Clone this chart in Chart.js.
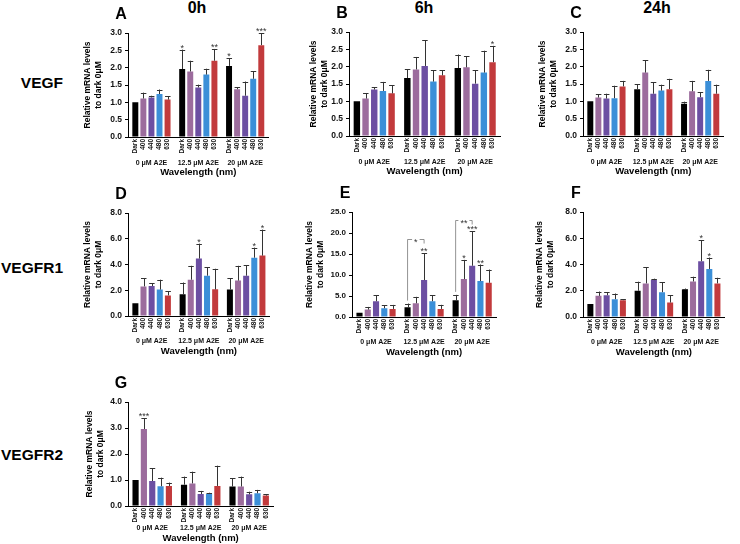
<!DOCTYPE html>
<html>
<head>
<meta charset="utf-8">
<script src="https://cdn.jsdelivr.net/npm/chart.js@4.4.0/dist/chart.umd.min.js"></script>
<style>
  body { margin: 0; width: 740px; height: 544px; background: #fff; position: relative; overflow: hidden;
         font-family: 'Liberation Sans', Arial, sans-serif; font-weight: bold; color: #000; }
  .lbl { position: absolute; white-space: nowrap; line-height: 1; }
  canvas { position: absolute; }
</style>
</head>
<body>
<div class="lbl" style="left:197px;top:8px;font-size:16px;transform:translate(-50%,-50%)">0h</div>
<div class="lbl" style="left:424px;top:8px;font-size:16px;transform:translate(-50%,-50%)">6h</div>
<div class="lbl" style="left:657px;top:8px;font-size:16px;transform:translate(-50%,-50%)">24h</div>

<div class="lbl" style="left:63px;top:83px;font-size:15.5px;transform:translate(-100%,-50%)">VEGF</div>
<div class="lbl" style="left:63px;top:268px;font-size:15.5px;transform:translate(-100%,-50%)">VEGFR1</div>
<div class="lbl" style="left:63px;top:455px;font-size:15.5px;transform:translate(-100%,-50%)">VEGFR2</div>

<script>
// Relative mRNA levels (to dark 0 µM) – VEGF / VEGFR1 / VEGFR2 after blue/red light + A2E

const doses = ['0 μM A2E', '12.5 μM A2E', '20 μM A2E'];
const wavelengths = ['Dark', '400', '440', '480', '630'];
const barColors = ['#000000', '#9c6c9d', '#6c4fa2', '#3b8fd8', '#c23a3c'];

// each row = one dose group, values in wavelength order
// ----- VEGF -----
const meanA = [[1.00, 1.11, 1.14, 1.24, 1.08], [1.96, 1.89, 1.43, 1.80, 2.20], [2.05, 1.38, 1.19, 1.68, 2.65]];
const sdA   = [[0, 0.17, 0.05, 0.13, 0.10], [0.56, 0.31, 0.08, 0.17, 0.34], [0.22, 0.05, 0.41, 0.21, 0.35]];
const starsA = [['', '', '', '', ''], ['*', '', '', '', '**'], ['*', '', '', '', '***']];

const meanB = [[1.00, 1.08, 1.34, 1.30, 1.23], [1.67, 1.92, 2.02, 1.57, 1.75], [1.96, 1.98, 1.51, 1.83, 2.13]];
const sdB   = [[0, 0.15, 0.06, 0.26, 0.24], [0.26, 0.36, 0.74, 0.33, 0.14], [0.39, 0.32, 0.39, 0.63, 0.47]];
const starsB = [['', '', '', '', ''], ['', '', '', '', ''], ['', '', '', '', '*']];

const meanC = [[1.00, 1.11, 1.08, 1.09, 1.43], [1.35, 1.83, 1.22, 1.31, 1.35], [0.93, 1.29, 1.12, 1.59, 1.22]];
const sdC   = [[0, 0.09, 0.14, 0.36, 0.16], [0.15, 0.35, 0.33, 0.17, 0.30], [0.06, 0.30, 0.14, 0.32, 0.26]];
const starsC = [['', '', '', '', ''], ['', '', '', '', ''], ['', '', '', '', '']];

// ----- VEGFR1 -----
const meanD = [[1.00, 2.30, 2.33, 2.05, 1.60], [1.68, 2.82, 4.46, 3.13, 2.07], [2.05, 2.75, 3.13, 4.53, 4.69]];
const sdD   = [[0, 0.65, 0.20, 0.77, 0.33], [0.92, 1.08, 1.16, 0.67, 1.60], [0.90, 1.15, 0.83, 0.78, 2.02]];
const starsD = [['', '', '', '', ''], ['', '', '*', '', ''], ['', '', '', '*', '*']];

const meanE = [[1.00, 1.76, 3.75, 2.08, 1.92], [2.30, 3.27, 8.79, 3.75, 1.92], [4.00, 9.03, 12.20, 8.55, 8.15]];
const sdE   = [[0, 0.64, 1.45, 0.72, 0.96], [0.90, 1.53, 6.41, 1.45, 0.98], [1.27, 4.57, 8.20, 3.95, 3.15]];
const starsE = [['', '', '', '', ''], ['', '', '**', '', ''], ['', '*', '***', '**', '']];
// Dark vs 440 comparisons: [dose index, level, label]
const bracketsE = [[1, 18.6, '*'], [2, 23.0, '**']];

const meanF = [[1.00, 1.61, 1.66, 1.36, 1.28], [2.00, 2.56, 2.81, 1.89, 1.10], [2.10, 2.71, 4.25, 3.66, 2.56]];
const sdF   = [[0, 0.33, 0.23, 0.43, 0.08], [0.69, 1.23, 0.11, 0.74, 0.56], [0.07, 0.36, 1.61, 0.87, 0.43]];
const starsF = [['', '', '', '', ''], ['', '', '', '', ''], ['', '', '*', '*', '']];

// ----- VEGFR2 -----
const meanG = [[1.00, 2.96, 0.96, 0.76, 0.77], [0.82, 0.87, 0.46, 0.46, 0.77], [0.75, 0.75, 0.45, 0.49, 0.40]];
const sdG   = [[0, 0.42, 0.49, 0.33, 0.13], [0.31, 0.45, 0.12, 0.05, 0.78], [0.32, 0.38, 0.10, 0.13, 0.05]];
const starsG = [['', '***', '', '', ''], ['', '', '', '', ''], ['', '', '', '', '']];

const FONT = "'Liberation Sans', Arial, sans-serif";
const AXIS_W = 62, AXIS_H = 42, PAD_TOP = 12;

// panel layout: plot box [left, top, right, bottom] in page px
const panels = [
  { letter: 'A', mean: meanA, sd: sdA, stars: starsA, max: 3, step: 0.5, box: [128, 33, 283, 137], yGap: 40, grpGap: 26, titleGap: 35 },
  { letter: 'B', mean: meanB, sd: sdB, stars: starsB, max: 3, step: 0.5, box: [349, 32, 513, 136], yGap: 35, grpGap: 26, titleGap: 35 },
  { letter: 'C', mean: meanC, sd: sdC, stars: starsC, max: 3, step: 0.5, box: [583, 32, 738, 136], yGap: 40, grpGap: 26, titleGap: 35 },
  { letter: 'D', mean: meanD, sd: sdD, stars: starsD, max: 8, step: 1, box: [128, 213, 283, 316], yGap: 40, grpGap: 25, titleGap: 35 },
  { letter: 'E', mean: meanE, sd: sdE, stars: starsE, brackets: bracketsE, max: 25, step: 5, box: [352, 212, 509, 317], yGap: 42, grpGap: 25, titleGap: 35 },
  { letter: 'F', mean: meanF, sd: sdF, stars: starsF, max: 8, step: 2, box: [583, 212, 738, 317], yGap: 43, grpGap: 25, titleGap: 35 },
  { letter: 'G', mean: meanG, sd: sdG, stars: starsG, max: 4, step: 1, box: [128, 402, 283, 506], yGap: 38, grpGap: 22, titleGap: 32 }
];

// error bars, significance marks and the rotated wavelength labels under each bar
const extras = {
  id: 'extras',
  afterDraw(chart, args, opts) {
    const ctx = chart.ctx;
    const y = chart.scales.y;
    const axisY = chart.chartArea.bottom;
    ctx.save();
    chart.data.datasets.forEach((ds, i) => {
      chart.getDatasetMeta(i).data.forEach((bar, j) => {
        // label
        ctx.save();
        ctx.translate(bar.x, axisY + 2);
        ctx.rotate(-Math.PI / 2);
        ctx.font = 'bold 6.5px ' + FONT;
        ctx.fillStyle = '#111';
        ctx.textAlign = 'right';
        ctx.textBaseline = 'middle';
        ctx.fillText(ds.label, 0, 0);
        ctx.restore();

        const m = opts.mean[j][i], s = opts.sd[j][i];
        const top = y.getPixelForValue(m + s);
        if (s > 0) {
          ctx.strokeStyle = '#333';
          ctx.lineWidth = 1;
          ctx.beginPath();
          ctx.moveTo(Math.round(bar.x) + 0.5, bar.y);
          ctx.lineTo(Math.round(bar.x) + 0.5, top);
          ctx.moveTo(bar.x - 2.5, Math.round(top) + 0.5);
          ctx.lineTo(bar.x + 3, Math.round(top) + 0.5);
          ctx.stroke();
        }
        const st = opts.stars[j][i];
        if (st) {
          ctx.font = '9px ' + FONT;
          ctx.fillStyle = '#333';
          ctx.textAlign = 'center';
          ctx.textBaseline = 'alphabetic';
          ctx.fillText(st, bar.x, top + 1);
        }
      });
    });

    (opts.brackets || []).forEach(([g, level, text]) => {
      const a = chart.getDatasetMeta(0).data[g];
      const b = chart.getDatasetMeta(2).data[g];
      const yl = Math.round(y.getPixelForValue(level)) + 0.5;
      const yDark = y.getPixelForValue(opts.mean[g][0] + opts.sd[g][0]) - 3;
      const mid = (a.x + b.x) / 2;
      ctx.font = '9px ' + FONT;
      const half = ctx.measureText(text).width / 2 + 2;
      ctx.strokeStyle = '#777';
      ctx.lineWidth = 0.8;
      ctx.beginPath();
      ctx.moveTo(a.x, yDark);
      ctx.lineTo(a.x, yl);
      ctx.lineTo(mid - half, yl);
      ctx.moveTo(mid + half, yl);
      ctx.lineTo(b.x, yl);
      ctx.lineTo(b.x, yl + 4);
      ctx.stroke();
      ctx.fillStyle = '#333';
      ctx.textAlign = 'center';
      ctx.textBaseline = 'alphabetic';
      ctx.fillText(text, mid, yl + 5);
    });
    ctx.restore();
  }
};

panels.forEach(p => {
  const [l, t, r, b] = p.box;
  const cv = document.createElement('canvas');
  const w = r - l + AXIS_W + 2, h = b - t + PAD_TOP + AXIS_H;
  cv.width = w; cv.height = h;
  cv.style.left = (l - AXIS_W) + 'px';
  cv.style.top = (t - PAD_TOP) + 'px';
  document.body.appendChild(cv);

  // panel letter
  const d = document.createElement('div');
  d.className = 'lbl';
  d.textContent = p.letter;
  d.style.cssText = `left:${l - 7}px;top:${t - 19}px;font-size:16px;transform:translate(-50%,-50%)`;
  document.body.appendChild(d);

  const tickFont = p.max >= 25 ? 8 : 8.5;

  new Chart(cv, {
    type: 'bar',
    data: {
      labels: doses,
      datasets: wavelengths.map((wl, i) => ({
        label: wl,
        data: p.mean.map(g => g[i]),
        backgroundColor: barColors[i],
        borderWidth: 0,
        barPercentage: 0.74,
        categoryPercentage: 0.86
      }))
    },
    options: {
      responsive: false,
      animation: false,
      events: [],
      layout: { padding: { top: PAD_TOP, right: 2, left: 0, bottom: 0 } },
      plugins: {
        legend: { display: false },
        tooltip: { enabled: false },
        extras: { mean: p.mean, sd: p.sd, stars: p.stars, brackets: p.brackets }
      },
      scales: {
        x: {
          grid: { display: false, drawTicks: false },
          border: { display: true, color: '#000', width: 1 },
          ticks: {
            autoSkip: false, maxRotation: 0, minRotation: 0,
            padding: p.grpGap - 4.2,
            color: '#111',
            font: { family: FONT, size: 7, weight: 'bold', lineHeight: 1.2 }
          },
          title: {
            display: true, text: 'Wavelength (nm)', color: '#000',
            font: { family: FONT, size: 9.5, weight: 'bold', lineHeight: 1.2 },
            padding: { top: 0, bottom: AXIS_H - p.titleGap - 5.7 }
          },
          afterFit: s => { s.height = AXIS_H; }
        },
        y: {
          min: 0, max: p.max,
          grid: { drawOnChartArea: false, drawTicks: true, tickLength: 3, color: '#000' },
          border: { display: true, color: '#000', width: 1 },
          ticks: {
            stepSize: p.step, padding: 3, color: '#111',
            font: { family: FONT, size: tickFont, weight: 'bold' },
            callback: v => Number(v).toFixed(1)
          },
          title: {
            display: true, text: ['Relative mRNA levels', 'to dark 0μM'], color: '#000',
            font: { family: FONT, size: 8.5, weight: 'bold', lineHeight: 1.25 },
            padding: { top: AXIS_W - p.yGap - 5.3, bottom: 0 }
          },
          afterFit: s => { s.width = AXIS_W; }
        }
      }
    },
    plugins: [extras]
  });
});
</script>
</body>
</html>
